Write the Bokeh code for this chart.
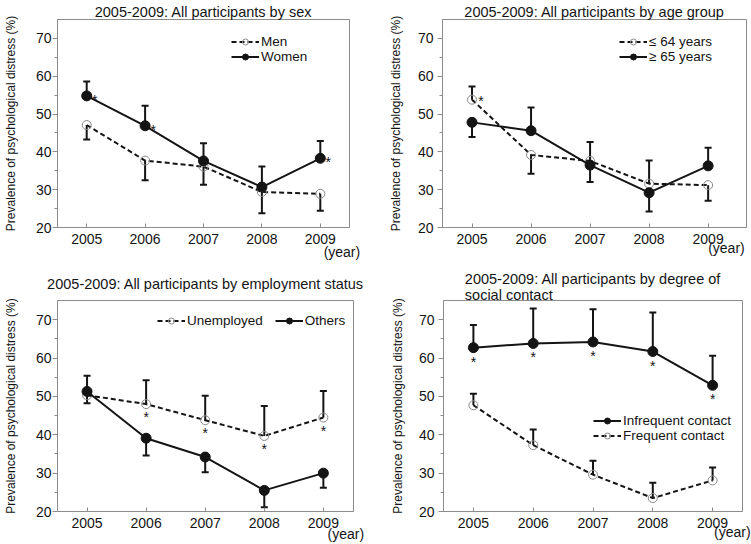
from bokeh.plotting import figure
from bokeh.models import Legend, LegendItem, FixedTicker, Range1d, LinearAxis
from bokeh.layouts import column, row
from bokeh.embed import file_html
from bokeh.resources import INLINE
from bokeh.core.properties import value

# ---------------- data ----------------
years = [2005, 2006, 2007, 2008, 2009]
year_labels = ["2005", "2006", "2007", "2008", "2009"]
y_ticks = [20, 30, 40, 50, 60, 70]
y_minor_ticks = [25, 35, 45, 55, 65]

# Panel 1: by sex (error bar end points)
men = [47.1, 37.7, 36.1, 29.4, 28.9]
men_err = [43.3, 32.5, 31.3, 23.8, 24.4]
women = [54.8, 46.9, 37.6, 30.7, 38.3]
women_err = [58.6, 52.2, 42.3, 36.1, 42.9]
sex_star_years = [2005, 2006, 2009]

# Panel 2: by age group
age_le64 = [53.8, 39.2, 37.6, 31.6, 31.2]
age_le64_err = [57.3, 34.2, 32.0, 37.7, 27.1]
age_ge65 = [47.8, 45.6, 36.5, 29.2, 36.3]
age_ge65_err = [43.9, 51.7, 42.6, 24.2, 41.1]
age_star_years = [2005]

# Panel 3: by employment status
unemployed = [50.3, 48.0, 43.8, 39.7, 44.5]
unemployed_err = [48.2, 54.2, 50.2, 47.5, 51.4]
others = [51.3, 39.1, 34.2, 25.5, 30.0]
others_err = [55.4, 34.6, 30.2, 21.1, 26.2]
emp_star_years = [2006, 2007, 2008, 2009]

# Panel 4: by degree of social contact
infrequent = [62.7, 63.8, 64.2, 61.7, 52.9]
infrequent_err = [68.6, 72.9, 72.7, 71.9, 60.6]
frequent = [47.7, 37.3, 29.6, 23.5, 28.1]
frequent_err = [50.7, 41.4, 33.2, 27.5, 31.5]
soc_star_years = [2005, 2006, 2007, 2008, 2009]

titles = [
    "2005-2009: All participants by sex",
    "2005-2009: All participants by age group",
    "2005-2009: All participants by employment status",
    "2005-2009: All participants by degree of\nsocial contact",
]
y_label = "Prevalence of psychological distress (%)"
x_note = "(year)"

# ---------------- style ----------------
FONT = "Liberation Sans"
INK = "#141414"
AXC = "#8c8c8c"
OPEN = "#8a8a8a"


def make_panel(title, w, h, borders, x_end, dashed, dashed_err, dashed_label,
               solid, solid_err, solid_label, legend_first, legend_loc,
               legend_orient, star_years, star_on, star_off, note_shift,
               note_standoff, tick_standoff, label_standoff, title_standoff):
    bl, br, bt, bb = borders
    p = figure(width=w, height=h, x_range=Range1d(2004.5, x_end),
               y_range=Range1d(20, 75), output_backend="svg",
               toolbar_location=None, min_border_left=bl, min_border_right=br,
               min_border_top=bt, min_border_bottom=bb)
    p.background_fill_color = "white"
    p.border_fill_color = "white"
    p.outline_line_color = AXC
    p.outline_line_width = 1
    p.xgrid.visible = False
    p.ygrid.visible = False

    p.title.text = title
    p.title.align = "center"
    p.title.text_font = FONT
    p.title.text_font_size = "14.5px"
    p.title.text_font_style = "normal"
    p.title.text_color = INK
    p.title.standoff = title_standoff

    xa = p.xaxis[0]
    xa.ticker = FixedTicker(ticks=years)
    xa.major_label_overrides = {y: l for y, l in zip(years, year_labels)}
    xa.major_tick_in = 4
    xa.major_tick_out = 0
    xa.minor_tick_line_color = None
    xa.major_label_standoff = 6
    ya = p.yaxis[0]
    ya.ticker = FixedTicker(ticks=y_ticks, minor_ticks=y_minor_ticks)
    ya.major_tick_in = 0
    ya.major_tick_out = 5
    ya.minor_tick_in = 0
    ya.minor_tick_out = 3
    ya.major_label_standoff = tick_standoff
    ya.axis_label = y_label
    ya.axis_label_standoff = label_standoff
    ya.axis_label_text_font = FONT
    ya.axis_label_text_font_size = "12px"
    ya.axis_label_text_font_style = "normal"
    ya.axis_label_text_color = INK
    for ax in (xa, ya):
        ax.axis_line_color = AXC
        ax.major_tick_line_color = AXC
        ax.minor_tick_line_color = AXC if ax is ya else None
        ax.major_label_text_font = FONT
        ax.major_label_text_font_size = "14px"
        ax.major_label_text_color = INK

    # "(year)" note as a label-only second x axis below the first
    note_x = years[-1] + note_shift
    na = LinearAxis(ticker=FixedTicker(ticks=[note_x]),
                    major_label_overrides={note_x: x_note},
                    axis_line_color=None, major_tick_line_color=None,
                    minor_tick_line_color=None, major_tick_in=0,
                    major_tick_out=0, major_label_standoff=note_standoff,
                    major_label_text_font=FONT,
                    major_label_text_font_size="14px",
                    major_label_text_color=INK)
    p.add_layout(na, "below")

    # error bars
    for v, e in ((dashed, dashed_err), (solid, solid_err)):
        p.segment(x0=years, y0=v, x1=years, y1=e, line_color=INK, line_width=2)
        p.scatter(x=years, y=e, marker="dash", size=7, line_color=INK,
                  line_width=2)

    dl = p.line(years, dashed, line_color=INK, line_width=2, line_dash="5 3")
    ds = p.scatter(years, dashed, marker="circle", size=9, fill_alpha=0,
                   line_color=OPEN, line_width=1)
    sl = p.line(years, solid, line_color=INK, line_width=2)
    ss = p.scatter(years, solid, marker="circle", size=10, fill_color=INK,
                   line_color=INK)

    it_d = LegendItem(label=dashed_label, renderers=[dl, ds])
    it_s = LegendItem(label=solid_label, renderers=[sl, ss])
    items = [it_d, it_s] if legend_first == "dashed" else [it_s, it_d]
    leg = Legend(items=items, location=legend_loc, orientation=legend_orient,
                 glyph_width=28, glyph_height=15, label_height=15,
                 label_standoff=2,
                 spacing=12 if legend_orient == "horizontal" else 0,
                 padding=0, margin=0, border_line_alpha=0,
                 background_fill_alpha=0, label_text_font=FONT,
                 label_text_font_size="13.5px", label_text_color=INK)
    p.add_layout(leg)

    src = dashed if star_on == "dashed" else solid
    sx = [y for y in years if y in star_years]
    sy = [src[years.index(y)] for y in sx]
    p.text(x=sx, y=sy, text=["*"] * len(sx), text_font=value(FONT),
           text_font_size="14px", text_color=INK, text_align="center",
           text_baseline="middle", x_offset=star_off[0], y_offset=star_off[1])
    return p


p1 = make_panel(titles[0], 375, 262, (51, 26, 19, 32), 2009.5,
                men, men_err, "Men", women, women_err, "Women", "dashed",
                (174, 163), "vertical", sex_star_years, "solid", (8, 4),
                0.37, -3, 1, 15, 0)
p2 = make_panel(titles[1], 376, 262, (67, 5, 19, 32), 2009.65,
                age_le64, age_le64_err, "\u2264 64 years", age_ge65,
                age_ge65_err, "\u2265 65 years", "dashed",
                (177, 163), "vertical", age_star_years, "dashed", (9, 1),
                0.31, -7, 4, 12, 0)
p3 = make_panel(titles[2], 375, 282, (49, 22, 38, 31), 2009.51,
                unemployed, unemployed_err, "Unemployed", others, others_err,
                "Others", "dashed", (100, 183), "horizontal", emp_star_years,
                "dashed", (0, 13), 0.38, -5, 1, 15, 18)
p4 = make_panel(titles[3], 376, 282, (68, 9, 38, 31), 2009.5,
                frequent, frequent_err, "Frequent contact", infrequent,
                infrequent_err, "Infrequent contact", "solid",
                (150, 68), "vertical", soc_star_years, "solid", (0, 14),
                0.33, -7, 4, 11, -4)

lay = column(row(p1, p2), row(p3, p4))

open("out.html", "w").write(file_html(lay, INLINE))
